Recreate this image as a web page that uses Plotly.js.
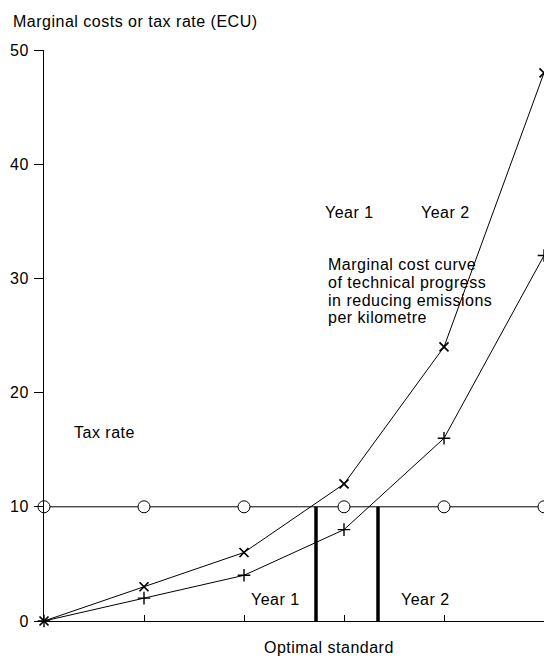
<!DOCTYPE html>
<html>
<head>
<meta charset="utf-8">
<script src="https://cdn.plot.ly/plotly-3.0.1.min.js"></script>
<style>
html,body{margin:0;padding:0;background:#fff;}
#chart{width:544px;height:659px;}
#chart svg text{letter-spacing:0.5px;}
</style>
</head>
<body>
<div id="chart"></div>
<script>
// Data
const steps = [0, 1, 2, 3, 4, 5];
const year1Cost = [0, 3, 6, 12, 24, 48];
const year2Cost = [0, 2, 4, 8, 16, 32];
const taxRate = [10, 10, 10, 10, 10, 10];
const optimalYear1 = 2.72;
const optimalYear2 = 3.34;
const yTicks = [0, 10, 20, 30, 40, 50];
const curveLabel = ['Marginal cost curve', 'of technical progress', 'in reducing emissions', 'per kilometre'];

const FONT = "Liberation Sans, Arial, sans-serif";
const FS = 16;

const traces = [
  {x: steps, y: taxRate, mode: 'lines+markers', line: {color: '#000', width: 1},
   marker: {symbol: 'circle', size: 12, color: '#fff', line: {color: '#000', width: 1}}, cliponaxis: false},
  {x: steps, y: year2Cost, mode: 'lines+markers', line: {color: '#000', width: 1},
   marker: {symbol: 'cross-thin', size: 9, color: '#000', line: {color: '#000', width: 1.4}}, cliponaxis: false},
  {x: steps, y: year1Cost, mode: 'lines+markers', line: {color: '#000', width: 1},
   marker: {symbol: 'x-thin', size: 9, color: '#000', line: {color: '#000', width: 1.7}}, cliponaxis: false},
  {x: [optimalYear1, optimalYear1], y: [0, 10], mode: 'lines', line: {color: '#000', width: 3.5}},
  {x: [optimalYear2, optimalYear2], y: [0, 10], mode: 'lines', line: {color: '#000', width: 3.5}}
];

const ann = (x, y, text) => ({x, y, xref: 'x', yref: 'y', text, showarrow: false,
  xanchor: 'left', yanchor: 'middle', align: 'left', font: {family: FONT, size: FS, color: '#000'}});

const curveYs = [31.2, 29.6, 28.1, 26.6];
const annotations = [
  {xref: 'paper', yref: 'paper', x: 0.57, y: -0.047, xanchor: 'center', yanchor: 'middle', showarrow: false,
   text: 'Optimal standard', font: {family: FONT, size: FS, color: '#000'}},
  ann(0.275, 16.55, 'Tax rate'),
  ann(2.785, 35.8, 'Year 1'),
  ann(3.745, 35.8, 'Year 2'),
  ann(2.045, 1.84, 'Year 1'),
  ann(3.545, 1.84, 'Year 2')
];
curveLabel.forEach((t, i) => annotations.push(ann(2.815, curveYs[i], t)));

const layout = {
  width: 544, height: 659,
  margin: {l: 44, r: 0, t: 50, b: 38},
  paper_bgcolor: '#fff', plot_bgcolor: '#fff',
  showlegend: false,
  font: {family: FONT, size: FS, color: '#000'},
  title: {text: 'Marginal costs or tax rate (ECU)', xref: 'container', yref: 'container',
    x: 0.0239, xanchor: 'left', y: 0.968, yanchor: 'middle', pad: {l: 0, r: 0, t: 0, b: 0},
    font: {family: FONT, size: FS, color: '#000'}},
  xaxis: {range: [0, 5], showgrid: false, zeroline: false, showline: true, linecolor: '#000', linewidth: 1,
    tickvals: [1, 2, 3, 4], ticks: 'inside', ticklen: 6, tickcolor: '#000', showticklabels: false, fixedrange: true},
  yaxis: {range: [0, 50], showgrid: false, zeroline: false, showline: true, linecolor: '#000', linewidth: 1,
    tickvals: yTicks, ticks: 'outside', ticklen: 9, tickcolor: '#000', ticklabelstandoff: 2,
    tickfont: {family: FONT, size: FS, color: '#000'}, fixedrange: true},
  annotations: annotations
};

Plotly.newPlot('chart', traces, layout, {displayModeBar: false, staticPlot: true});
</script>
</body>
</html>
